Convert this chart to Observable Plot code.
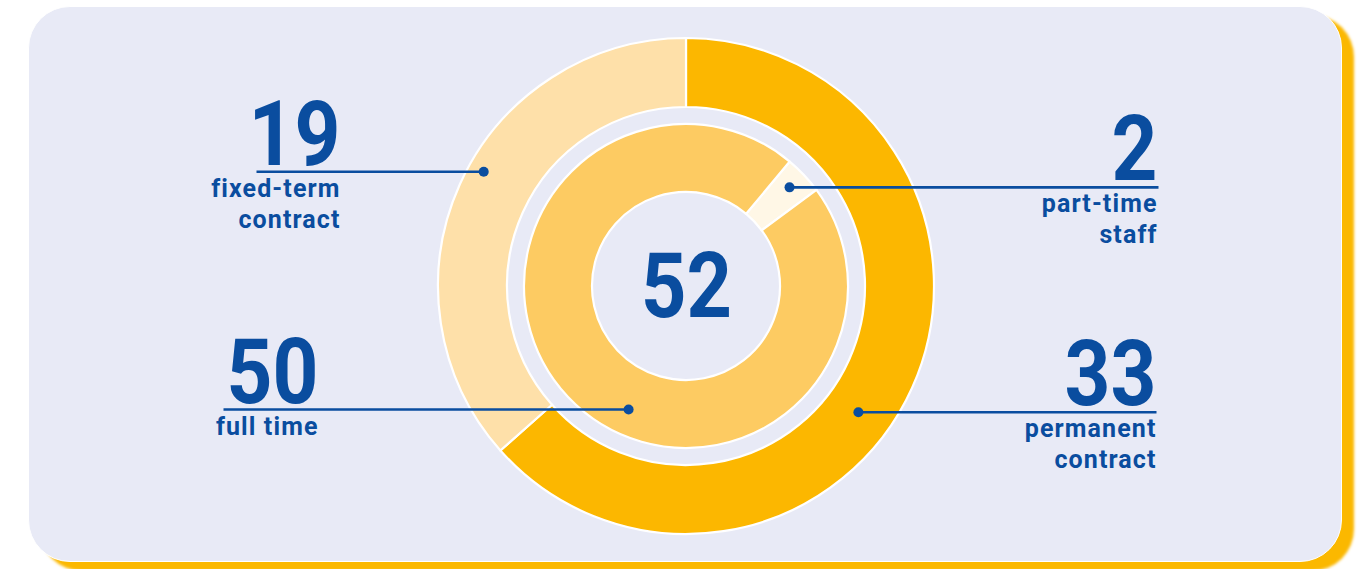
<!DOCTYPE html>
<html>
<head>
<meta charset="utf-8">
<script src="https://cdn.jsdelivr.net/npm/d3@7"></script>
<script src="https://cdn.jsdelivr.net/npm/@observablehq/plot@0.6"></script>
<style>
html, body { margin: 0; padding: 0; background: #ffffff; overflow: hidden; }
#wrap { position: relative; width: 1367px; height: 569px; }
#panel { position: absolute; left: 28px; top: 6px; width: 1312px; height: 554px; border-radius: 42px;
  background: #e8eaf6; border: 1.5px solid #ffffff; box-shadow: 12px 9px 3px #fbb800; }
#chart { position: absolute; left: 0; top: 0; }
#chart g[font-size="25"] { letter-spacing: 1.1px; }
</style>
</head>
<body>
<div id="wrap"><div id="panel"></div><div id="chart"></div></div>
<script>
// ---- data ----
const outerCategories = ["permanent contract", "fixed-term contract"];
const outerValues = [33, 19];
const outerLabels = ["permanent\ncontract", "fixed-term\ncontract"];
const innerCategories = ["part-time staff", "full time"];
const innerValues = [2, 50];
const innerLabels = ["part-time\nstaff", "full time"];

// ---- style / layout (not data) ----
const colors = d3.scaleOrdinal()
  .domain(["permanent contract", "fixed-term contract", "part-time staff", "full time"])
  .range(["#fcb700", "#fee0a9", "#fff7e6", "#fdcb62"]);
const blue = "#0a4d9f";
const center = {x: 686, y: 286};
const rings = {outer: [179, 248], inner: [94, 162]};
const innerStartDeg = 39.8;
const numSqueeze = 0.88;
// callout layout: angle (deg, clockwise from top), radius, text anchor x, outer line end x
const callouts = {
  "fixed-term contract": {angle: 299.5, r: 233, tx: 340, lx: 256},
  "full time":           {angle: 205.2, r: 136, tx: 318, lx: 223},
  "part-time staff":     {angle: 46.1,  r: 143, tx: 1157, lx: 1158},
  "permanent contract":  {angle: 126.2, r: 213, tx: 1156, lx: 1156}
};

const rows = [
  ...outerCategories.map((c, i) => ({category: c, value: outerValues[i], label: outerLabels[i]})),
  ...innerCategories.map((c, i) => ({category: c, value: innerValues[i], label: innerLabels[i]}))
].map(d => {
  const L = callouts[d.category];
  const a = L.angle * Math.PI / 180;
  const px = center.x + L.r * Math.sin(a);
  const py = center.y - L.r * Math.cos(a);
  return {...d, px, py, tx: L.tx, lx: L.lx};
});

const labelLines = rows.flatMap(d => d.label.split("\n").map((t, i) => ({...d, line: t, i})));
const total = d3.sum(outerValues);

const ringMark = (cats, vals, [r0, r1], startDeg) => (index, scales) => {
  const data = cats.map((c, i) => ({category: c, value: vals[i]}));
  const s = startDeg * Math.PI / 180;
  const pie = d3.pie().sort(null).value(d => d.value).startAngle(s).endAngle(s + 2 * Math.PI);
  const arc = d3.arc().innerRadius(r0).outerRadius(r1);
  const g = d3.create("svg:g")
    .attr("transform", `translate(${scales.x(center.x)},${scales.y(center.y)})`);
  g.selectAll("path").data(pie(data)).join("path")
    .attr("d", arc)
    .attr("fill", d => colors(d.data.category))
    .attr("stroke", "#ffffff")
    .attr("stroke-width", 2.2);
  return g.node();
};

const numFont = "Roboto, 'DejaVu Sans Condensed', sans-serif";
const lblFont = "Roboto, 'Liberation Sans', sans-serif";

const plot = Plot.plot({
  width: 1367,
  height: 569,
  margin: 0,
  x: {domain: [0, 1367], range: [0, 1367], axis: null},
  y: {domain: [0, 569], range: [0, 569], axis: null},
  style: {background: "transparent", overflow: "visible"},
  marks: [
    ringMark(outerCategories, outerValues, rings.outer, 0),
    ringMark(innerCategories, innerValues, rings.inner, innerStartDeg),
    Plot.link(rows, {x1: "lx", y1: "py", x2: "px", y2: "py", stroke: blue, strokeWidth: 2.6}),
    Plot.dot(rows, {x: "px", y: "py", r: 5, fill: blue}),
    Plot.text(rows, {x: "tx", y: d => d.py - 7, text: d => String(d.value), textAnchor: "end",
      lineAnchor: "bottom", fontSize: 91, fontWeight: 700, fontFamily: numFont, fill: blue}),
    Plot.text(labelLines, {x: "tx", y: d => d.py + 25 + d.i * 31, text: "line", textAnchor: "end",
      lineAnchor: "bottom", fontSize: 25, fontWeight: 700, fontFamily: lblFont, fill: blue}),
    Plot.text([total], {x: center.x, y: center.y + 30, text: d => String(d), textAnchor: "middle",
      lineAnchor: "bottom", fontSize: 90, fontWeight: 700, fontFamily: numFont, fill: blue})
  ]
});

// narrow the big figures horizontally around their anchor (DIN-like condensed digits)
d3.select(plot).selectAll('g[font-size="91"] text, g[font-size="90"] text').each(function () {
  const sel = d3.select(this);
  const x = +(sel.attr("x") || 0), y = +(sel.attr("y") || 0);
  const t = sel.attr("transform") || "";
  sel.attr("x", null).attr("y", null)
     .attr("transform", `${t} translate(${x},${y}) scale(${numSqueeze},1)`);
});
document.getElementById("chart").appendChild(plot);
</script>
</body>
</html>
